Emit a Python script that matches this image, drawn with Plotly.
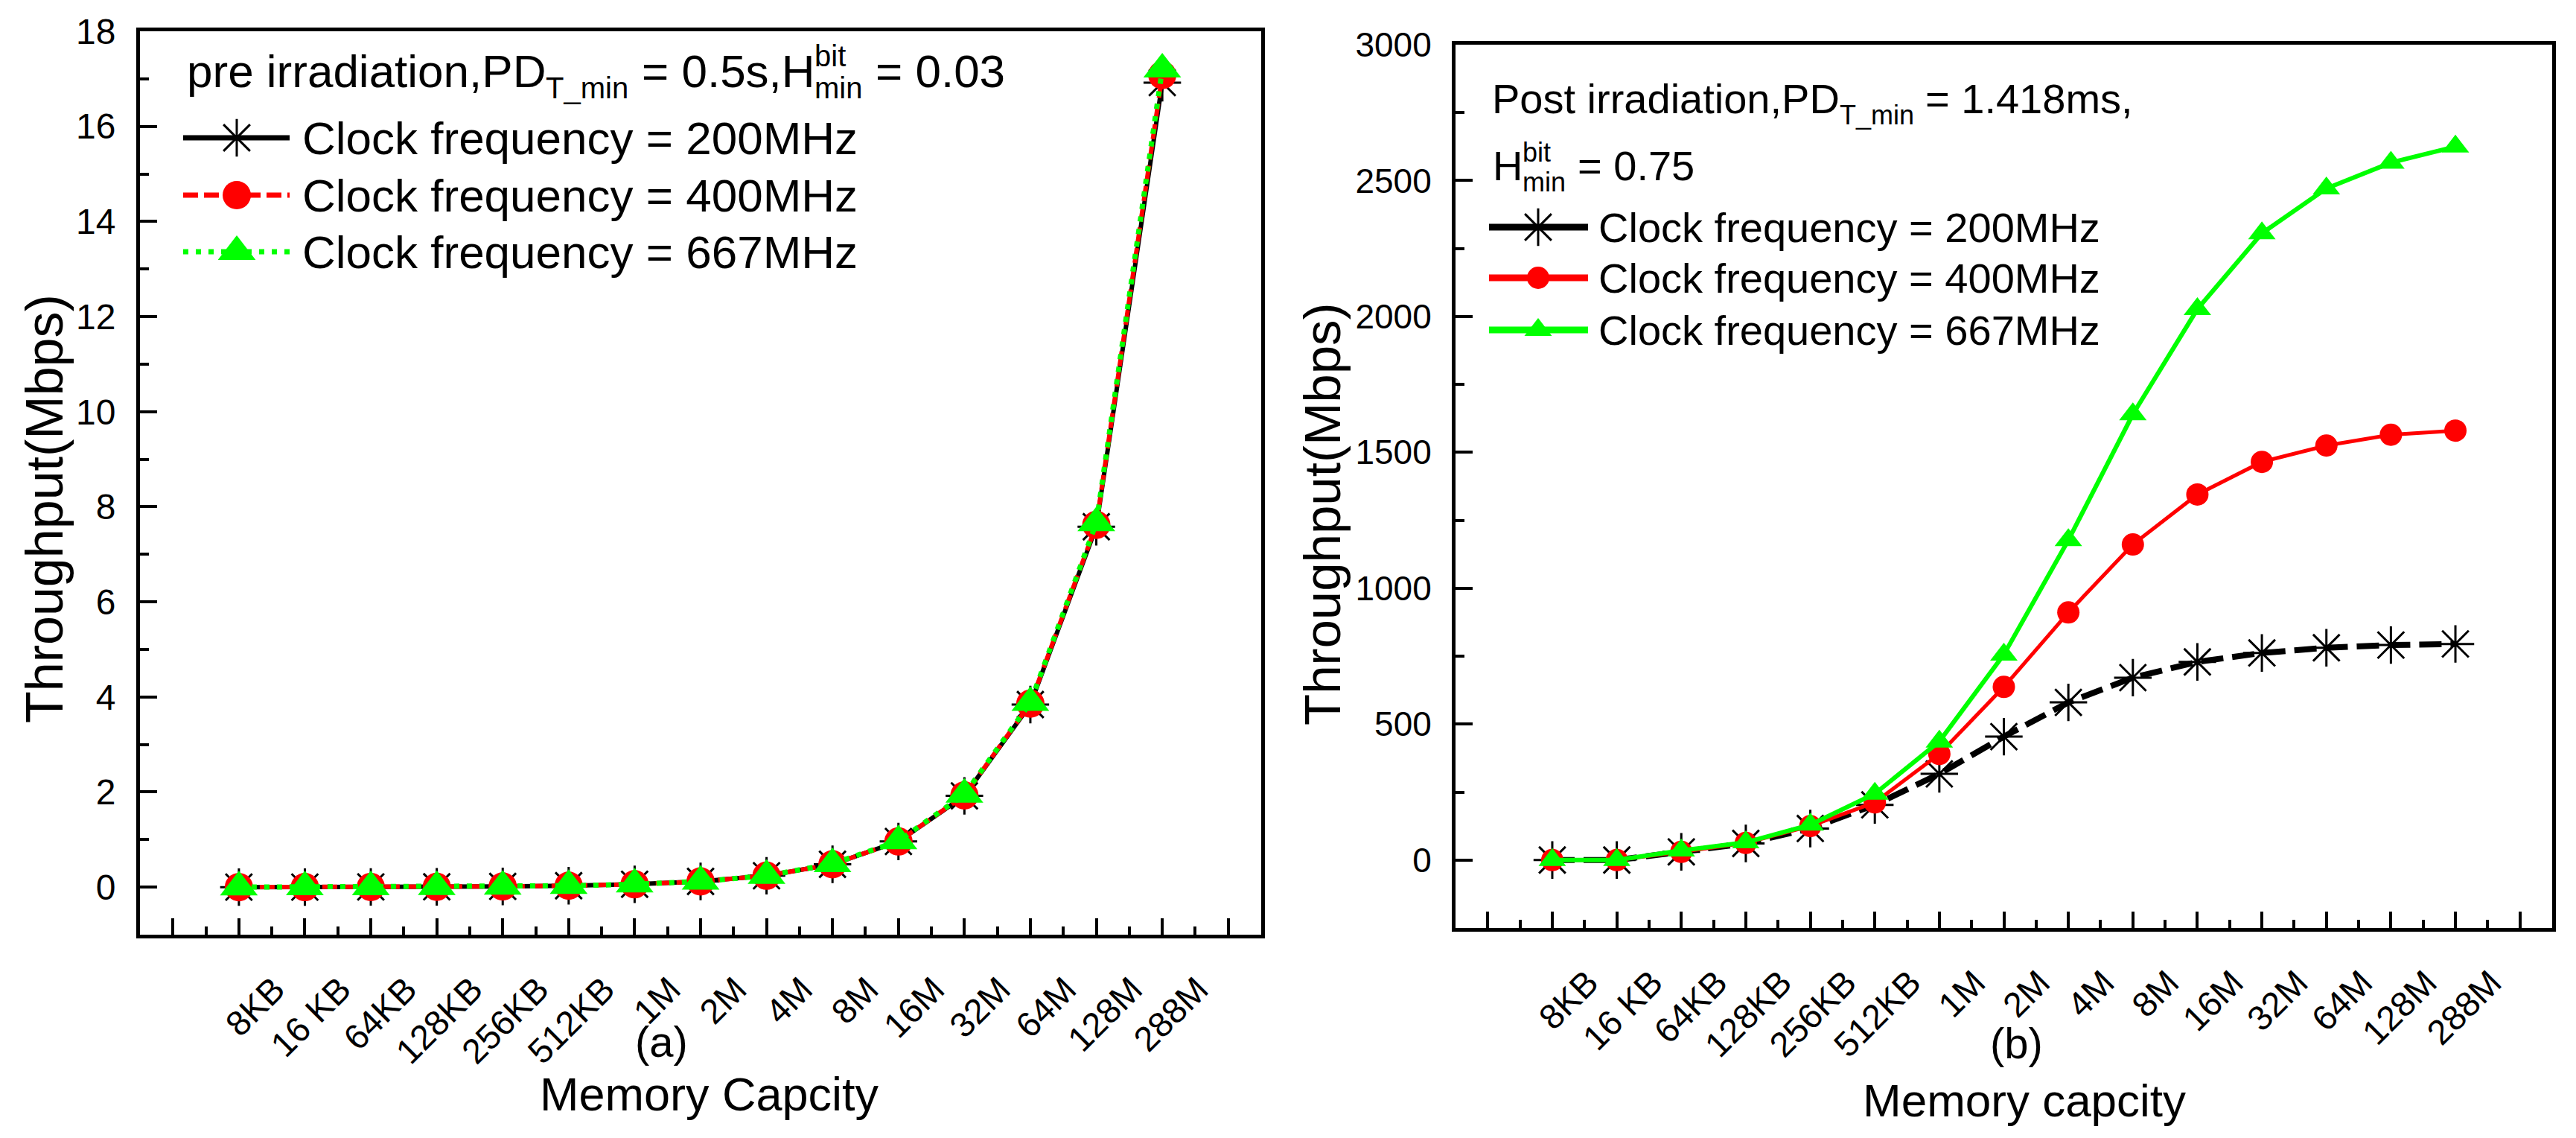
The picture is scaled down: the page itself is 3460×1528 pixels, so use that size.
import plotly.graph_objects as go

# ---------------- data ----------------
categories = ["8KB", "16 KB", "64KB", "128KB", "256KB", "512KB", "1M", "2M",
              "4M", "8M", "16M", "32M", "64M", "128M", "288M"]

pre_200 = [0.0005, 0.001, 0.004, 0.0075, 0.015, 0.03, 0.06, 0.12, 0.24, 0.48, 0.96, 1.92, 3.84, 7.58, 16.92]
pre_400 = [0.0005, 0.001, 0.004, 0.0075, 0.015, 0.03, 0.06, 0.12, 0.24, 0.48, 0.96, 1.93, 3.86, 7.62, 17.08]
pre_667 = [0.0005, 0.001, 0.004, 0.0075, 0.015, 0.03, 0.06, 0.12, 0.24, 0.49, 0.97, 1.95, 3.88, 7.66, 17.2]

post_200 = [0, 0, 30, 61, 116, 203, 317, 454, 580, 671, 729, 762, 781, 791, 795]
post_400 = [0, 0, 30, 63, 125, 212, 390, 637, 911, 1161, 1345, 1465, 1525, 1565, 1580]
post_667 = [0, 0, 35, 65, 130, 244, 436, 756, 1177, 1640, 2027, 2306, 2471, 2566, 2625]

left_yrange = [-1, 18]
right_yrange = [-250, 3000]

# ---------------- page geometry ----------------
W, H = 3460, 1528
FONT = "Liberation Sans, Arial, sans-serif"
BLACK, RED, GREEN = "#000000", "#FF0000", "#00FF00"

def fx(p):
    return p / W

def fy(p):
    return 1 - p / H

xs = list(range(len(categories)))
major_x = list(range(-1, len(categories) + 1))
major_text = [""] + categories + [""]
minor_x = [i - 0.5 for i in range(len(categories) + 1)]

fig = go.Figure()

# left panel traces
fig.add_trace(go.Scatter(x=xs, y=pre_200, mode="lines+markers", xaxis="x", yaxis="y",
                         line=dict(color=BLACK, width=6),
                         marker=dict(symbol="asterisk-open", size=42, color=BLACK, line=dict(width=3, color=BLACK)),
                         showlegend=False, cliponaxis=False))
fig.add_trace(go.Scatter(x=xs, y=pre_400, mode="lines+markers", xaxis="x", yaxis="y",
                         line=dict(color=RED, width=6, dash="20px,8px"),
                         marker=dict(symbol="circle", size=38, color=RED),
                         showlegend=False, cliponaxis=False))
fig.add_trace(go.Scatter(x=xs, y=pre_667, mode="lines+markers", xaxis="x", yaxis="y",
                         line=dict(color=GREEN, width=7, dash="7px,10px"),
                         marker=dict(symbol="triangle-up", size=44, color=GREEN),
                         showlegend=False, cliponaxis=False))

# right panel traces
fig.add_trace(go.Scatter(x=xs, y=post_200, mode="lines+markers", xaxis="x2", yaxis="y2",
                         line=dict(color=BLACK, width=8, dash="30px,12px"),
                         marker=dict(symbol="asterisk-open", size=42, color=BLACK, line=dict(width=3, color=BLACK)),
                         showlegend=False, cliponaxis=False))
fig.add_trace(go.Scatter(x=xs, y=post_400, mode="lines+markers", xaxis="x2", yaxis="y2",
                         line=dict(color=RED, width=5),
                         marker=dict(symbol="circle", size=30, color=RED),
                         showlegend=False, cliponaxis=False))
fig.add_trace(go.Scatter(x=xs, y=post_667, mode="lines+markers", xaxis="x2", yaxis="y2",
                         line=dict(color=GREEN, width=6),
                         marker=dict(symbol="triangle-up", size=32, color=GREEN),
                         showlegend=False, cliponaxis=False))

# ---------------- custom legends (pixel overlay axes) ----------------
def legend_sample(x0, x1, xm, yy, line, marker):
    fig.add_trace(go.Scatter(x=[x0, x1], y=[yy, yy], mode="lines", xaxis="x3", yaxis="y3",
                             line=line, showlegend=False, hoverinfo="skip", cliponaxis=False))
    fig.add_trace(go.Scatter(x=[xm], y=[yy], mode="markers", xaxis="x3", yaxis="y3",
                             marker=marker, showlegend=False, hoverinfo="skip", cliponaxis=False))

legend_labels = ["Clock frequency = 200MHz", "Clock frequency = 400MHz", "Clock frequency = 667MHz"]

left_styles = [
    (dict(color=BLACK, width=7), dict(symbol="asterisk-open", size=42, color=BLACK, line=dict(width=3, color=BLACK))),
    (dict(color=RED, width=7, dash="20px,8px"), dict(symbol="circle", size=38, color=RED)),
    (dict(color=GREEN, width=7, dash="7px,10px"), dict(symbol="triangle-up", size=44, color=GREEN)),
]
right_styles = [
    (dict(color=BLACK, width=9), dict(symbol="asterisk-open", size=42, color=BLACK, line=dict(width=3, color=BLACK))),
    (dict(color=RED, width=9), dict(symbol="circle", size=30, color=RED)),
    (dict(color=GREEN, width=9), dict(symbol="triangle-up", size=32, color=GREEN)),
]

annotations = []

AW = {" ": 278, ",": 278, ".": 278, "=": 584, "_": 556, "(": 333, ")": 333,
      "A": 667, "B": 667, "C": 722, "D": 722, "H": 722, "K": 667, "M": 833, "P": 667, "T": 611,
      "a": 556, "b": 556, "c": 500, "d": 556, "e": 556, "f": 278, "g": 556, "h": 556, "i": 222,
      "k": 500, "l": 222, "m": 833, "n": 556, "o": 556, "p": 556, "q": 556, "r": 333, "s": 500,
      "t": 278, "u": 556, "y": 500, "z": 500}

def tw(s, size):
    return sum(AW.get(c, 556) for c in s) / 1000.0 * size

def text_run(pieces, x0, baseline):
    x = x0
    for text, size, dy, advance in pieces:
        lead = len(text) - len(text.lstrip(" "))
        xt = x + tw(" " * lead, size)
        t = text.strip(" ")
        annotations.append(dict(x=xt, y=baseline + dy - 0.3465 * size, xref="x3", yref="y3",
                                text=t, showarrow=False, xanchor="left", yanchor="middle",
                                borderpad=0, font=dict(family=FONT, size=size, color=BLACK)))
        if advance:
            x += tw(text, size)

for i, (ln, mk) in enumerate(left_styles):
    yy = [185, 262, 338][i]
    legend_sample(246, 389, 318, yy, ln, mk)
    text_run([(legend_labels[i], 62, 0, True)], 405, yy + 0.3465 * 62)

for i, (ln, mk) in enumerate(right_styles):
    yy = [305, 373, 443][i]
    legend_sample(2000, 2133, 2066, yy, ln, mk)
    text_run([(legend_labels[i], 56, 0, True)], 2146, yy + 0.3465 * 56)

# panel headers with stacked super/subscripts
S1, s1 = 62, 40
text_run([("pre irradiation,PD", S1, 0, True), ("T_min", s1, 15, True),
          (" = 0.5s,H", S1, 0, True), ("bit", s1, -28, False), ("min", s1, 15, True),
          (" = 0.03", S1, 0, True)], 250, 117)

S2, s2 = 56, 36
text_run([("Post irradiation,PD", S2, 0, True), ("T_min", s2, 15, True),
          (" = 1.418ms,", S2, 0, True)], 2003, 152)
text_run([("H", S2, 0, True), ("bit", s2, -25, False), ("min", s2, 15, True),
          (" = 0.75", S2, 0, True)], 2004, 242)

# axis titles and panel tags
def centered(text, x, y, size, angle=0):
    annotations.append(dict(x=x, y=y, xref="x3", yref="y3", text=text, showarrow=False,
                            xanchor="center", yanchor="middle", textangle=angle, borderpad=0,
                            font=dict(family=FONT, size=size, color=BLACK)))

centered("Throughput(Mbps)", 60, 683, 70, -90)
centered("Throughput(Mbps)", 1776, 690, 69, -90)
centered("(a)", 888, 1398, 58)
centered("Memory Capcity", 953, 1469, 63)
centered("(b)", 2708, 1400, 58)
centered("Memory capcity", 2719, 1477, 62)

# ---------------- axes ----------------
def xaxis_cfg(domain, anchor):
    return dict(domain=domain, anchor=anchor, range=[-1.5, len(categories) + 0.5],
                automargin=False,
                tickmode="array", tickvals=major_x, ticktext=major_text,
                ticks="inside", ticklen=22, tickwidth=4, tickcolor=BLACK,
                minor=dict(tickmode="array", tickvals=minor_x, ticks="inside", ticklen=11,
                           tickwidth=4, tickcolor=BLACK, showgrid=False),
                showline=True, linewidth=5, linecolor=BLACK, mirror=True,
                showgrid=False, zeroline=False, tickangle=-45,
                ticklabelshift=48, ticklabelstandoff=22,
                tickfont=dict(family=FONT, size=47, color=BLACK))

def yaxis_cfg(domain, anchor, rng, dtick, size):
    return dict(domain=domain, anchor=anchor, range=rng,
                automargin=False,
                tickmode="linear", tick0=0, dtick=dtick,
                ticks="inside", ticklen=23, tickwidth=4, tickcolor=BLACK,
                minor=dict(tickmode="linear", tick0=0, dtick=dtick / 2, ticks="inside",
                           ticklen=12, tickwidth=4, tickcolor=BLACK, showgrid=False),
                showline=True, linewidth=5, linecolor=BLACK, mirror=True,
                showgrid=False, zeroline=False, ticklabelstandoff=18,
                tickfont=dict(family=FONT, size=size, color=BLACK))

fig.update_layout(
    template="none",
    width=W, height=H,
    margin=dict(l=0, r=0, t=0, b=0, pad=0, autoexpand=False),
    paper_bgcolor="white", plot_bgcolor="rgba(0,0,0,0)",
    showlegend=False,
    xaxis=xaxis_cfg([fx(188), fx(1694)], "y"),
    yaxis=yaxis_cfg([fy(1255), fy(42)], "x", left_yrange, 2, 48),
    xaxis2=xaxis_cfg([fx(1955), fx(3428)], "y2"),
    yaxis2=yaxis_cfg([fy(1246), fy(60)], "x2", right_yrange, 500, 46),
    xaxis3=dict(domain=[0, 1], anchor="y3", range=[0, W], visible=False, fixedrange=True,
                automargin=False, showgrid=False, zeroline=False),
    yaxis3=dict(domain=[0, 1], anchor="x3", range=[H, 0], visible=False, fixedrange=True,
                automargin=False, showgrid=False, zeroline=False),
    annotations=annotations,
    font=dict(family=FONT, color=BLACK),
)

fig.write_html("out.html", config={"displayModeBar": False},
               post_script="document.body.style.margin='0';document.body.style.overflow='hidden';")
